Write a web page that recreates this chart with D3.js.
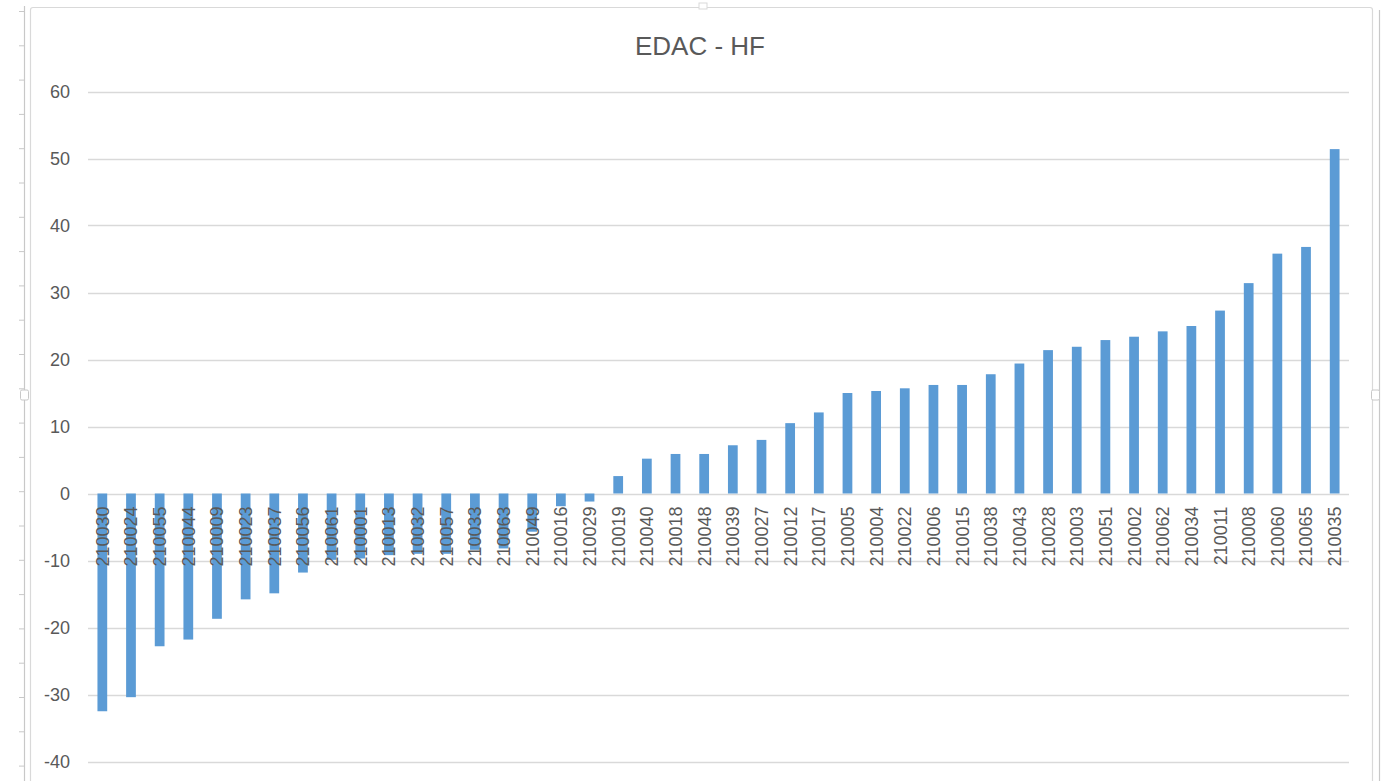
<!DOCTYPE html>
<html>
<head>
<meta charset="utf-8">
<script src="https://cdn.jsdelivr.net/npm/d3@7"></script>
<style>
  html, body { margin: 0; padding: 0; background: #ffffff; }
  svg { display: block; }
</style>
</head>
<body>
<svg id="chart" width="1389" height="781"></svg>
<script>
// EDAC - HF: deviation per unit, sorted ascending
const categories = [
  "210030","210024","210055","210044","210009","210023","210037","210056","210061","210001",
  "210013","210032","210057","210033","210063","210049","210016","210029","210019","210040",
  "210018","210048","210039","210027","210012","210017","210005","210004","210022","210006",
  "210015","210038","210043","210028","210003","210051","210002","210062","210034","210011",
  "210008","210060","210065","210035"
];
const values = [
  -32.5, -30.4, -22.8, -21.8, -18.7, -15.8, -14.9, -11.8, -9.9, -9.7,
  -9.2, -9.0, -9.0, -8.4, -8.2, -5.7, -1.9, -1.2, 2.6, 5.2,
  5.9, 5.9, 7.2, 8.0, 10.5, 12.1, 15.0, 15.3, 15.7, 16.2,
  16.2, 17.8, 19.4, 21.4, 21.9, 22.9, 23.4, 24.2, 25.0, 27.3,
  31.4, 35.8, 36.8, 51.4
];
const yTicks = [60, 50, 40, 30, 20, 10, 0, -10, -20, -30, -40];
const title = "EDAC - HF";

const svg = d3.select("#chart");
const textColor = "#595959";
const gridColor = "#d9d9d9";
const barColor = "#5b9bd5";
const font = "'Liberation Sans', Arial, sans-serif";

// Surrounding frame of the chart object
const frame = svg.append("g").attr("fill", "none");
frame.append("path")
  .attr("d", "M30.5,781 L30.5,10 Q30.5,7.5 33,7.5 L1370,7.5 Q1372.5,7.5 1372.5,10 L1372.5,781")
  .attr("stroke", "#d9d9d9").attr("stroke-width", 1.2);
frame.append("line").attr("x1", 24.5).attr("x2", 24.5).attr("y1", 6).attr("y2", 781)
  .attr("stroke", "#c8c8c8").attr("stroke-width", 1.2);
frame.append("line").attr("x1", 1379.5).attr("x2", 1379.5).attr("y1", 10).attr("y2", 781)
  .attr("stroke", "#c8c8c8").attr("stroke-width", 1.2);
d3.range(11, 781, 34.3).forEach(y => {
  frame.append("line").attr("x1", 19).attr("x2", 24.5).attr("y1", y + 0.5).attr("y2", y + 0.5)
    .attr("stroke", "#c8c8c8");
});
// side handles
[[24.5, 395], [1375.5, 395]].forEach(([x, y]) => {
  frame.append("rect").attr("x", x - 4).attr("y", y - 5).attr("width", 8).attr("height", 10)
    .attr("rx", 1.5).attr("fill", "#fff").attr("stroke", "#c8c8c8");
});
frame.append("rect").attr("x", 699).attr("y", 3).attr("width", 8).attr("height", 6)
  .attr("fill", "#fff").attr("stroke", "#d9d9d9");

// Scales
const x = d3.scaleBand()
  .domain(categories)
  .range([88, 1349])
  .paddingInner(0.66)
  .paddingOuter(0.33);
const y = d3.scaleLinear().domain([-40, 60]).range([761.5, 91.5]);

// Title
svg.append("text")
  .attr("x", 700).attr("y", 55)
  .attr("text-anchor", "middle")
  .attr("font-family", font)
  .attr("font-size", 26)
  .attr("fill", textColor)
  .text(title);

// Gridlines
svg.append("g")
  .selectAll("line")
  .data(yTicks)
  .join("line")
  .attr("x1", 88).attr("x2", 1349)
  .attr("y1", d => Math.round(y(d)) + 0.5)
  .attr("y2", d => Math.round(y(d)) + 0.5)
  .attr("stroke", gridColor)
  .attr("stroke-width", 1.3);

// Y axis labels (plain hyphen for negatives)
const yAxis = d3.axisLeft(y).tickValues(yTicks).tickFormat(d => String(d)).tickSize(0).tickPadding(0);
const yg = svg.append("g").attr("transform", "translate(70,0)").call(yAxis);
yg.select(".domain").remove();
yg.selectAll("text")
  .attr("font-family", font)
  .attr("font-size", 18)
  .attr("fill", textColor);

// Bars
svg.append("g")
  .selectAll("rect")
  .data(values)
  .join("rect")
  .attr("x", (d, i) => x(categories[i]))
  .attr("width", x.bandwidth())
  .attr("y", d => y(Math.max(0, d)))
  .attr("height", d => Math.abs(y(d) - y(0)))
  .attr("fill", barColor);

// Category labels, rotated, drawn over the bars
const xAxis = d3.axisBottom(x).tickSize(0).tickPadding(0);
const xg = svg.append("g").attr("transform", `translate(0,${y(0)})`).call(xAxis);
xg.select(".domain").remove();
xg.selectAll("text")
  .attr("font-family", font)
  .attr("font-size", 18)
  .attr("fill", textColor)
  .attr("text-anchor", "end")
  .attr("transform", "rotate(-90)")
  .attr("x", -13)
  .attr("y", 0)
  .attr("dy", "0.36em");
</script>
</body>
</html>
